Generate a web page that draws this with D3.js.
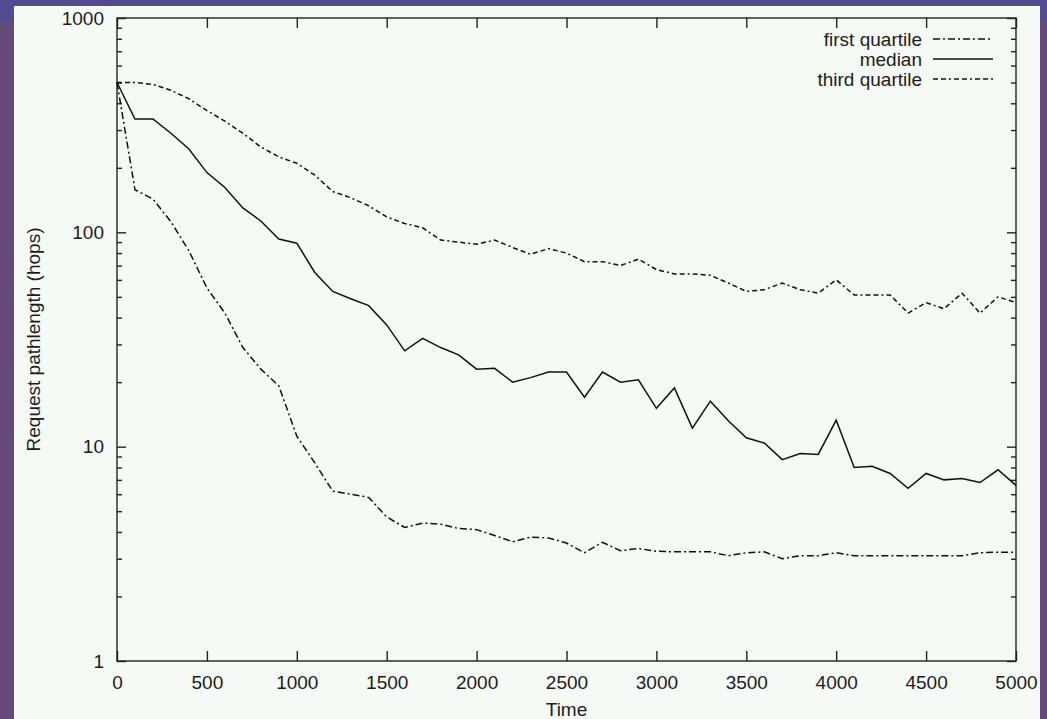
<!DOCTYPE html>
<html>
<head>
<meta charset="utf-8">
<script src="https://cdn.jsdelivr.net/npm/d3@7"></script>
<style>
body{margin:0;padding:0;background:#644a7b;}
svg{display:block;}
text{font-family:"Liberation Sans",Arial,Helvetica,sans-serif;fill:#1c1c1c;}
</style>
</head>
<body>
<script>
var width=1047;
var height=719;
var margin={top:18,right:31,bottom:58,left:117};

var times=[0,100,200,300,400,500,600,700,800,900,1000,1100,1200,1300,1400,1500,1600,1700,1800,1900,2000,
  2100,2200,2300,2400,2500,2600,2700,2800,2900,3000,3100,3200,3300,3400,3500,3600,3700,3800,3900,4000,
  4100,4200,4300,4400,4500,4600,4700,4800,4900,5000];
var firstQuartile=[500,158,143,112,82,55,42,29,23,19.2,11.2,8.4,6.2,6.0,5.8,4.7,4.2,4.4,4.35,4.15,4.1,
  3.85,3.6,3.78,3.75,3.55,3.2,3.58,3.27,3.35,3.25,3.23,3.23,3.23,3.1,3.2,3.23,3.0,3.1,3.1,3.2,
  3.1,3.1,3.1,3.1,3.1,3.1,3.1,3.2,3.22,3.22];
var median=[500,338,338,290,245,190,162,130,113,93,89,65,53,49,45.5,37,28,32,29,26.8,23,
  23.2,20,21,22.3,22.3,17,22.3,20,20.5,15.1,18.8,12.2,16.3,13.2,11,10.4,8.7,9.3,9.2,13.3,
  8.0,8.1,7.5,6.4,7.5,7.0,7.1,6.8,7.8,6.6];
var thirdQuartile=[500,500,490,460,420,370,330,290,250,225,210,185,155,145,133,118,110,105,92,90,88,
  92,85,79,84,80,73,73,70,75,67,64,64,63,58,53,54,58,54,52,60,
  51,51,51,42,47,44,52,42,50,47];

var seriesNames=["first quartile","median","third quartile"];
var xTicks=[0,500,1000,1500,2000,2500,3000,3500,4000,4500,5000];
var yTicks=[1,10,100,1000];
var yMinor=[2,3,4,5,6,7,8,9,20,30,40,50,60,70,80,90,200,300,400,500,600,700,800,900];

var dashes=["7,3,2,3","","5,3,5,3,2,3"];
var allSeries=[firstQuartile,median,thirdQuartile];

var svg=d3.select("body").append("svg").attr("width",width).attr("height",height);

// window frame colours
svg.append("rect").attr("x",0).attr("y",0).attr("width",width).attr("height",height).attr("fill","#644a7b");
svg.append("rect").attr("x",0).attr("y",0).attr("width",width).attr("height",22).attr("fill","#534b91");
svg.append("rect").attr("x",14).attr("y",6).attr("width",1026).attr("height",height-6).attr("fill","#f6faf7");

var x=d3.scaleLinear().domain([0,5000]).range([margin.left,width-margin.right]);
var y=d3.scaleLog().domain([1,1000]).range([height-margin.bottom,margin.top]);

var g=svg.append("g");

function styleAxis(sel){
  sel.select(".domain").remove();
  sel.selectAll("line").attr("stroke","#222").attr("stroke-width",1.4);
  sel.selectAll("text").attr("font-size","19px").attr("fill","#1c1c1c").attr("font-family",null);
}

g.append("g").attr("transform","translate("+margin.left+",0)")
  .call(d3.axisLeft(y).tickValues(yTicks).tickSize(-9).tickPadding(13).tickFormat(d3.format("d")))
  .call(styleAxis);
g.append("g").attr("transform","translate("+margin.left+",0)")
  .call(d3.axisLeft(y).tickValues(yMinor).tickSize(-5).tickFormat(""))
  .call(styleAxis);
g.append("g").attr("transform","translate("+(width-margin.right)+",0)")
  .call(d3.axisRight(y).tickValues(yTicks).tickSize(-9).tickFormat(""))
  .call(styleAxis);
g.append("g").attr("transform","translate("+(width-margin.right)+",0)")
  .call(d3.axisRight(y).tickValues(yMinor).tickSize(-5).tickFormat(""))
  .call(styleAxis);
g.append("g").attr("transform","translate(0,"+(height-margin.bottom)+")")
  .call(d3.axisBottom(x).tickValues(xTicks).tickSize(-10).tickPadding(15).tickFormat(d3.format("d")))
  .call(styleAxis);
g.append("g").attr("transform","translate(0,"+margin.top+")")
  .call(d3.axisTop(x).tickValues(xTicks).tickSize(-10).tickFormat(""))
  .call(styleAxis);

// plot border
svg.append("rect")
  .attr("x",margin.left).attr("y",margin.top)
  .attr("width",width-margin.right-margin.left)
  .attr("height",height-margin.bottom-margin.top)
  .attr("fill","none").attr("stroke","#222").attr("stroke-width",1.4);

var line=d3.line()
  .x(function(d,i){return x(times[i]);})
  .y(function(d){return y(d);});

svg.selectAll(".series").data(allSeries).enter()
  .append("path")
  .attr("class","series")
  .attr("fill","none")
  .attr("stroke","#111")
  .attr("stroke-width",1.5)
  .attr("stroke-dasharray",function(d,i){return dashes[i];})
  .attr("d",line);

// legend
var legend=svg.append("g");
seriesNames.forEach(function(name,i){
  var ly=39+i*20;
  legend.append("text").attr("x",922).attr("y",ly).attr("dy","0.35em")
    .attr("text-anchor","end").attr("font-size","19px").text(name);
  legend.append("line").attr("x1",933).attr("x2",993).attr("y1",ly).attr("y2",ly)
    .attr("stroke","#111").attr("stroke-width",1.5).attr("stroke-dasharray",dashes[i]);
});

// axis titles
svg.append("text").attr("x",(margin.left+width-margin.right)/2).attr("y",709)
  .attr("dy","0.35em").attr("text-anchor","middle").attr("font-size","19px").text("Time");
svg.append("text")
  .attr("transform","translate(33,"+((margin.top+height-margin.bottom)/2)+") rotate(-90)")
  .attr("dy","0.35em").attr("text-anchor","middle").attr("font-size","19px")
  .text("Request pathlength (hops)");
</script>
</body>
</html>
